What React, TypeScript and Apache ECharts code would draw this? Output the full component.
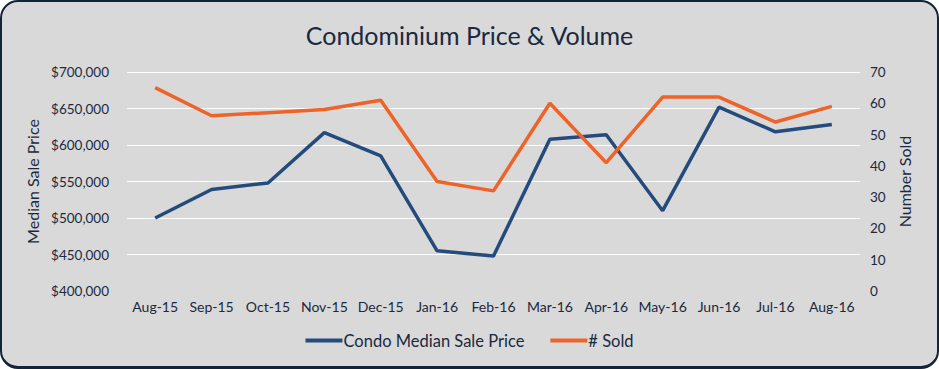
import React, { useEffect, useRef } from "react";
import * as echarts from "echarts";

const categories = ["Aug-15", "Sep-15", "Oct-15", "Nov-15", "Dec-15", "Jan-16", "Feb-16", "Mar-16", "Apr-16", "May-16", "Jun-16", "Jul-16", "Aug-16"];
const medianPrice = [500000, 539000, 548000, 617000, 585000, 455000, 448000, 608000, 614000, 510000, 652000, 618000, 628000];
const numberSold = [65, 56, 57, 58, 61, 35, 32, 60, 41, 62, 62, 54, 59];

const FONT = "Lato, 'Noto Sans', sans-serif";
const TEXT = "#1b2940";

export default function App() {
  const ref = useRef<HTMLDivElement>(null);
  useEffect(() => {
    if (!ref.current) return;
    const chart = echarts.init(ref.current, undefined, { renderer: "svg" });
    chart.setOption({
      animation: false,
      backgroundColor: "transparent",
      textStyle: { fontFamily: FONT, color: TEXT },
      title: {
        text: "Condominium Price & Volume",
        left: "center",
        top: 17,
        textStyle: { fontFamily: FONT, fontSize: 25, fontWeight: "normal", color: TEXT },
      },
      legend: {
        bottom: 15,
        left: "center",
        itemWidth: 37,
        itemHeight: 4,
        itemGap: 26,
        icon: "rect",
        textStyle: { fontFamily: FONT, fontSize: 16.5, color: TEXT, padding: [0, 0, 0, -4] },
        data: ["Condo Median Sale Price", "# Sold"],
      },
      grid: { left: 127, right: 79, top: 72, bottom: 78 },
      xAxis: {
        type: "category",
        data: categories,
        boundaryGap: true,
        axisLine: { show: false },
        axisTick: { show: false },
        axisLabel: { fontFamily: FONT, fontSize: 14, color: TEXT, margin: 8, interval: 0 },
      },
      yAxis: [
        {
          type: "value",
          min: 400000,
          max: 700000,
          interval: 50000,
          name: "Median Sale Price",
          nameLocation: "middle",
          nameRotate: 90,
          nameGap: 85,
          nameTextStyle: { fontFamily: FONT, fontSize: 16, color: TEXT },
          axisLine: { show: false },
          axisTick: { show: false },
          axisLabel: {
            fontFamily: FONT,
            fontSize: 13.5,
            color: TEXT,
            margin: 18,
            formatter: (v: number) => "$" + v.toLocaleString("en-US"),
          },
          splitLine: { show: true, showMinLine: false, lineStyle: { color: "#ffffff", width: 1 } },
        },
        {
          type: "value",
          min: 0,
          max: 70,
          interval: 10,
          name: "Number Sold",
          nameLocation: "middle",
          nameRotate: 90,
          nameGap: 35,
          nameTextStyle: { fontFamily: FONT, fontSize: 16, color: TEXT },
          axisLine: { show: false },
          axisTick: { show: false },
          axisLabel: { fontFamily: FONT, fontSize: 13.5, color: TEXT, margin: 10 },
          splitLine: { show: false },
        },
      ],
      series: [
        {
          name: "Condo Median Sale Price",
          type: "line",
          yAxisIndex: 0,
          data: medianPrice,
          showSymbol: false,
          symbol: "none",
          lineStyle: { color: "#254b7c", width: 3.5 },
          itemStyle: { color: "#254b7c" },
        },
        {
          name: "# Sold",
          type: "line",
          yAxisIndex: 1,
          data: numberSold,
          showSymbol: false,
          symbol: "none",
          lineStyle: { color: "#ee6328", width: 3.5 },
          itemStyle: { color: "#ee6328" },
        },
      ],
    });
    return () => chart.dispose();
  }, []);

  return (
    <div style={{ position: "fixed", left: 0, top: 0, width: 939, height: 369, background: "#ffffff" }}>
      <div
        style={{
          position: "absolute",
          left: 0,
          top: 0,
          width: 939,
          height: 369,
          boxSizing: "border-box",
          border: "2px solid #13233c",
          borderBottomWidth: 3,
          borderRadius: 18,
          background: "#d9d9d9",
        }}
      />
      <div ref={ref} style={{ position: "absolute", left: 0, top: 0, width: 939, height: 369 }} />
    </div>
  );
}
